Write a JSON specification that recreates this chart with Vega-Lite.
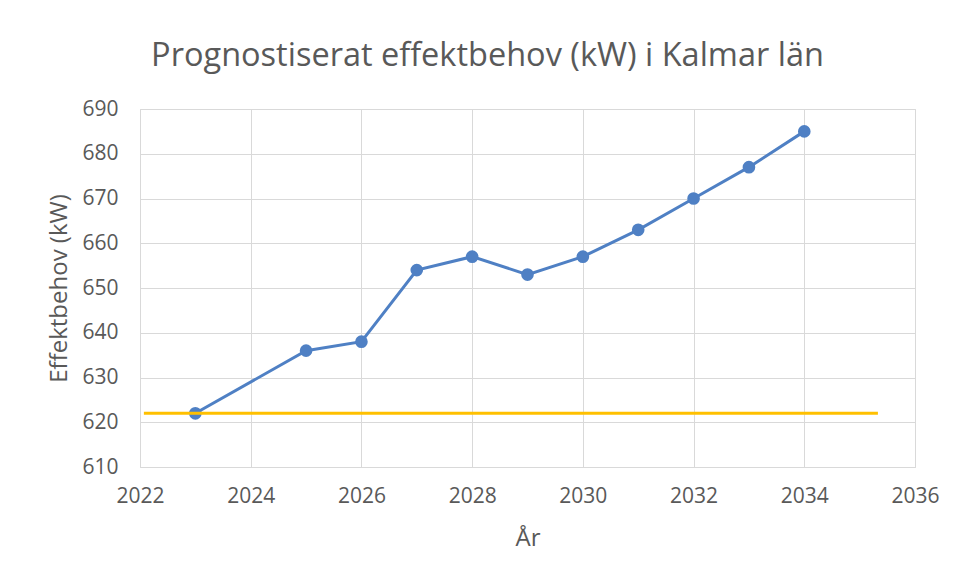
{
  "$schema": "https://vega.github.io/schema/vega-lite/v6.json",
  "autosize": {"type": "none"},
  "padding": {"left": 140, "top": 109, "right": 42, "bottom": 113},
  "width": 775,
  "height": 358,
  "background": "white",
  "title": {
    "text": "Prognostiserat effektbehov (kW) i Kalmar län",
    "anchor": "middle",
    "dx": -40,
    "offset": 26,
    "font": "Open Sans",
    "fontSize": 32.5,
    "fontWeight": "normal",
    "color": "#595959"
  },
  "config": {
    "view": {"stroke": "#d9d9d9", "strokeWidth": 1},
    "axis": {
      "labelFont": "Open Sans",
      "labelFontSize": 21,
      "labelColor": "#595959",
      "labelFlush": false,
      "titleFont": "Open Sans",
      "titleFontSize": 24,
      "titleFontWeight": "normal",
      "titleColor": "#595959",
      "gridColor": "#d9d9d9",
      "gridWidth": 1,
      "domain": false,
      "ticks": false
    }
  },
  "datasets": {
    "forecast": [
      {"year": 2023, "kw": 622},
      {"year": 2025, "kw": 636},
      {"year": 2026, "kw": 638},
      {"year": 2027, "kw": 654},
      {"year": 2028, "kw": 657},
      {"year": 2029, "kw": 653},
      {"year": 2030, "kw": 657},
      {"year": 2031, "kw": 663},
      {"year": 2032, "kw": 670},
      {"year": 2033, "kw": 677},
      {"year": 2034, "kw": 685}
    ],
    "baseline": [
      {"start": 2022.07, "end": 2035.33, "kw": 622}
    ]
  },
  "layer": [
    {
      "data": {"name": "forecast"},
      "mark": {"type": "line", "color": "#4f80c4", "strokeWidth": 3, "point": {"filled": true, "size": 160, "color": "#4f80c4", "opacity": 1}},
      "encoding": {
        "x": {
          "field": "year", "type": "quantitative",
          "scale": {"domain": [2022, 2036], "nice": false, "zero": false},
          "axis": {"values": [2022, 2024, 2026, 2028, 2030, 2032, 2034, 2036], "format": "d", "title": "År", "labelPadding": 18, "titlePadding": 20}
        },
        "y": {
          "field": "kw", "type": "quantitative",
          "scale": {"domain": [610, 690], "nice": false, "zero": false},
          "axis": {"values": [610, 620, 630, 640, 650, 660, 670, 680, 690], "title": "Effektbehov (kW)", "labelPadding": 22, "titlePadding": 10}
        }
      }
    },
    {
      "data": {"name": "baseline"},
      "mark": {"type": "rule", "color": "#ffc000", "strokeWidth": 3},
      "encoding": {
        "x": {"field": "start", "type": "quantitative"},
        "x2": {"field": "end"},
        "y": {"field": "kw", "type": "quantitative"}
      }
    }
  ]
}
